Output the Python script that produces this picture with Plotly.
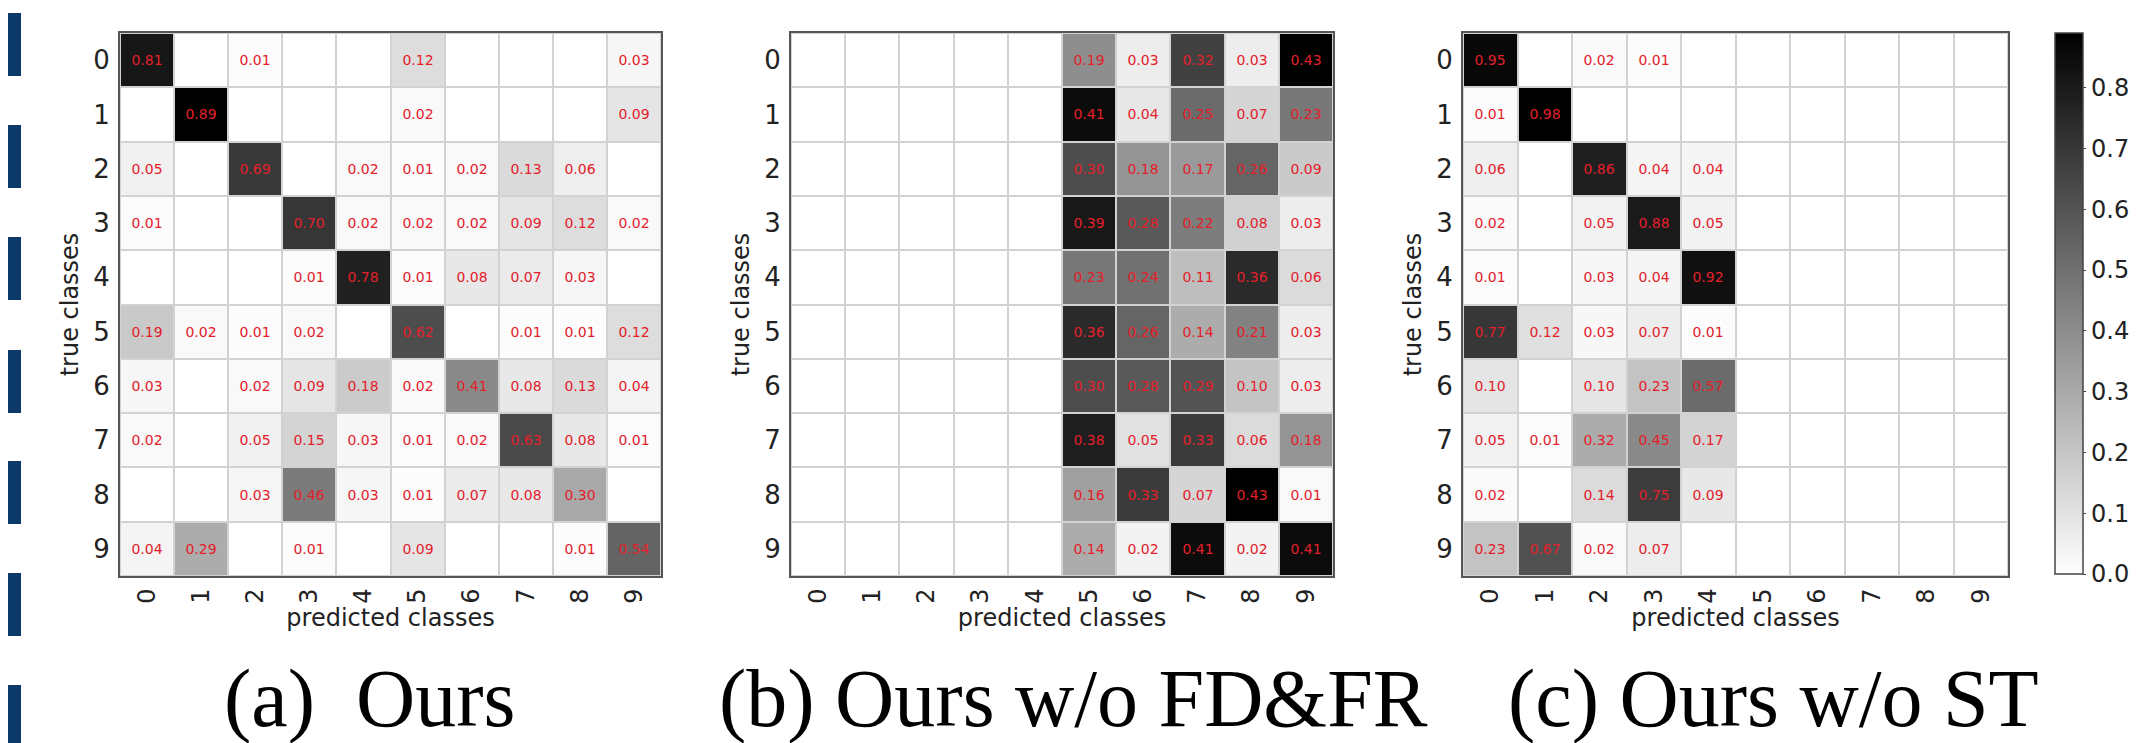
import plotly.graph_objects as go

W, H = 2142, 743

classes = list(range(10))
tick_labels = [str(c) for c in classes]
panel_titles = ["(a)\u00a0\u00a0Ours", "(b) Ours w/o FD&FR", "(c) Ours w/o ST"]

ours = [
    [0.81, 0, 0.01, 0, 0, 0.12, 0, 0, 0, 0.03],
    [0, 0.89, 0, 0, 0, 0.02, 0, 0, 0, 0.09],
    [0.05, 0, 0.69, 0, 0.02, 0.01, 0.02, 0.13, 0.06, 0],
    [0.01, 0, 0, 0.70, 0.02, 0.02, 0.02, 0.09, 0.12, 0.02],
    [0, 0, 0, 0.01, 0.78, 0.01, 0.08, 0.07, 0.03, 0],
    [0.19, 0.02, 0.01, 0.02, 0, 0.62, 0, 0.01, 0.01, 0.12],
    [0.03, 0, 0.02, 0.09, 0.18, 0.02, 0.41, 0.08, 0.13, 0.04],
    [0.02, 0, 0.05, 0.15, 0.03, 0.01, 0.02, 0.63, 0.08, 0.01],
    [0, 0, 0.03, 0.46, 0.03, 0.01, 0.07, 0.08, 0.30, 0],
    [0.04, 0.29, 0, 0.01, 0, 0.09, 0, 0, 0.01, 0.54],
]

ours_wo_fdfr = [
    [0, 0, 0, 0, 0, 0.19, 0.03, 0.32, 0.03, 0.43],
    [0, 0, 0, 0, 0, 0.41, 0.04, 0.25, 0.07, 0.23],
    [0, 0, 0, 0, 0, 0.30, 0.18, 0.17, 0.26, 0.09],
    [0, 0, 0, 0, 0, 0.39, 0.28, 0.22, 0.08, 0.03],
    [0, 0, 0, 0, 0, 0.23, 0.24, 0.11, 0.36, 0.06],
    [0, 0, 0, 0, 0, 0.36, 0.26, 0.14, 0.21, 0.03],
    [0, 0, 0, 0, 0, 0.30, 0.28, 0.29, 0.10, 0.03],
    [0, 0, 0, 0, 0, 0.38, 0.05, 0.33, 0.06, 0.18],
    [0, 0, 0, 0, 0, 0.16, 0.33, 0.07, 0.43, 0.01],
    [0, 0, 0, 0, 0, 0.14, 0.02, 0.41, 0.02, 0.41],
]

ours_wo_st = [
    [0.95, 0, 0.02, 0.01, 0, 0, 0, 0, 0, 0],
    [0.01, 0.98, 0, 0, 0, 0, 0, 0, 0, 0],
    [0.06, 0, 0.86, 0.04, 0.04, 0, 0, 0, 0, 0],
    [0.02, 0, 0.05, 0.88, 0.05, 0, 0, 0, 0, 0],
    [0.01, 0, 0.03, 0.04, 0.92, 0, 0, 0, 0, 0],
    [0.77, 0.12, 0.03, 0.07, 0.01, 0, 0, 0, 0, 0],
    [0.10, 0, 0.10, 0.23, 0.57, 0, 0, 0, 0, 0],
    [0.05, 0.01, 0.32, 0.45, 0.17, 0, 0, 0, 0, 0],
    [0.02, 0, 0.14, 0.75, 0.09, 0, 0, 0, 0, 0],
    [0.23, 0.67, 0.02, 0.07, 0, 0, 0, 0, 0, 0],
]

colorbar_ticks = [0.0, 0.1, 0.2, 0.3, 0.4, 0.5, 0.6, 0.7, 0.8]

# ---- layout geometry (pixels) ----
panels_px = [(112, 653), (783, 1325), (1455, 2000)]
top_px, bottom_px = 25, 568
title_centers_px = [361, 1065, 1765]
bar_starts_px = [5, 117, 229, 342, 453, 565, 677]
bar_h_px, bar_w_px = 63, 13

FONT = "DejaVu Sans"
greys = [[0, "#ffffff"], [1, "#000000"]]

fig = go.Figure()
mats = [ours, ours_wo_fdfr, ours_wo_st]
for i, z in enumerate(mats):
    zmax = max(max(r) for r in z)
    text = [["" if v == 0 else f"{v:.2f}" for v in row] for row in z]
    suffix = "" if i == 0 else str(i + 1)
    tr = go.Heatmap(
        z=z, x=classes, y=classes, text=text, texttemplate="%{text}",
        textfont=dict(family=FONT, size=14, color="#e3202a"),
        colorscale=greys, zmin=0, zmax=zmax, xgap=2, ygap=2,
        xaxis="x" + suffix, yaxis="y" + suffix,
        showscale=(i == 0), hoverinfo="skip",
    )
    if i == 0:
        tr.colorbar = dict(
            x=2047 / W, xanchor="left", xpad=0, ypad=0,
            y=1 - top_px / H, yanchor="top",
            len=(566 - top_px) / H, lenmode="fraction",
            thickness=28, thicknessmode="pixels",
            outlinewidth=1.5, outlinecolor="#444",
            tickvals=colorbar_ticks, ticktext=[f"{t:.1f}" for t in colorbar_ticks],
            ticks="outside", ticklen=3, tickcolor="#444",
            tickfont=dict(family=FONT, size=24, color="#222"),
        )
    fig.add_trace(tr)

layout = dict(
    width=W, height=H, margin=dict(l=0, r=0, t=0, b=0),
    paper_bgcolor="white", plot_bgcolor="#d2d2d2",
    font=dict(family=FONT, color="#222"),
    showlegend=False,
)
for i, (x0, x1) in enumerate(panels_px):
    suffix = "" if i == 0 else str(i + 1)
    layout["xaxis" + suffix] = dict(
        domain=[x0 / W, x1 / W], anchor="y" + suffix,
        range=[-0.5, 9.5], tickvals=classes, ticktext=tick_labels,
        tickangle=-90, ticks="", ticklabelstandoff=1,
        tickfont=dict(family=FONT, size=24, color="#222"),
        showline=True, mirror=True, linecolor="#555", linewidth=2,
        showgrid=False, zeroline=False,
        title=dict(text="predicted classes", font=dict(family=FONT, size=24, color="#222"), standoff=4),
    )
    layout["yaxis" + suffix] = dict(
        domain=[1 - bottom_px / H, 1 - top_px / H], anchor="x" + suffix,
        range=[9.5, -0.5], tickvals=classes, ticktext=tick_labels,
        ticks="", ticklabelstandoff=3,
        tickfont=dict(family=FONT, size=26, color="#222"),
        showline=True, mirror=True, linecolor="#555", linewidth=2,
        showgrid=False, zeroline=False,
        title=dict(text="true classes", font=dict(family=FONT, size=24, color="#222"), standoff=8),
    )
fig.update_layout(**layout)

for cx, t in zip(title_centers_px, panel_titles):
    fig.add_annotation(
        x=cx / W, y=0, xref="paper", yref="paper",
        xanchor="center", yanchor="bottom", showarrow=False, text=t,
        borderpad=0, yshift=6,
        font=dict(family="Liberation Serif", size=82, color="#000"),
    )

for s in bar_starts_px:
    fig.add_shape(
        type="rect", xref="paper", yref="paper",
        x0=0, x1=bar_w_px / W, y0=1 - s / H, y1=1 - min(s + bar_h_px, H) / H,
        fillcolor="#0b3a68", line=dict(width=0), layer="above",
    )

fig.write_html("out.html")
